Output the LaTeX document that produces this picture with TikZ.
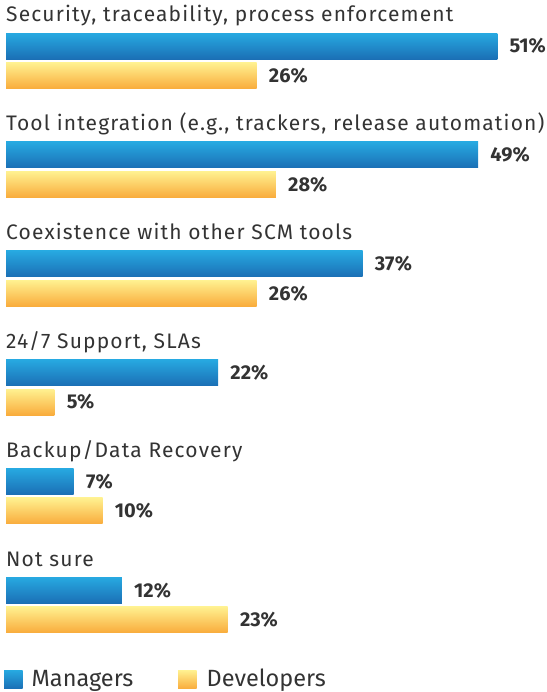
\documentclass[tikz,border=0pt]{standalone}
\usepackage{fontspec}
\setmainfont{Fira Sans}
\newfontfamily\spacedfont[LetterSpace=5.5]{Fira Sans}
\usetikzlibrary{positioning}
\definecolor{mgrtop}{HTML}{27A9E1}
\definecolor{mgrbot}{HTML}{1B6FB5}
\definecolor{devtop}{HTML}{FFF190}
\definecolor{devbot}{HTML}{F9AC3C}
\definecolor{inkgray}{HTML}{333333}
\tikzset{
    catlabel/.style={anchor=base west, inner sep=0pt, text=inkgray,
        font=\spacedfont\fontsize{21}{24}\selectfont},
    mgrbar/.style={anchor=north west, inner sep=0pt, minimum height=26pt,
        top color=mgrtop, bottom color=mgrbot},
    devbar/.style={anchor=north west, inner sep=0pt, minimum height=26pt,
        top color=devtop, bottom color=devbot},
    pctlabel/.style={inner sep=0pt, text=inkgray,
        font=\bfseries\fontsize{20}{22}\selectfont},
    keysq/.style={anchor=north west, inner sep=0pt, minimum size=18.5pt},
    keylabel/.style={anchor=base west, inner sep=0pt, text=inkgray,
        font=\fontsize{23.5}{27}\selectfont}
}

\begin{document}
\begin{tikzpicture}[x=1pt, y=-1pt]
\useasboundingbox (0,0) rectangle (546,692);
% one group per answer: title, managers bar, developers bar
\foreach \lbl/\mgr/\dev [count=\i from 0] in {
    {Security, traceability, process enforcement}/51/26,
    {Tool integration (e.g., trackers, release automation)}/49/28,
    {Coexistence with other SCM tools}/37/26,
    {24/7 Support, SLAs}/22/5,
    {Backup/Data Recovery}/7/10,
    {Not sure}/12/23}{
  \node[catlabel] (title\i) at (6, 22+108.8*\i) {\lbl};
  \node[mgrbar, minimum width=\mgr*9.63pt] (mgr\i) at (6, 33+108.8*\i) {};
  \node[devbar, minimum width=\dev*9.63pt, below=3pt of mgr\i.south west,
      anchor=north west] (dev\i) {};
  \node[pctlabel, right=12pt of mgr\i] (mgrpct\i) {\mgr\%};
  \node[pctlabel, right=12pt of dev\i] (devpct\i) {\dev\%};
}
% legend
\node[keysq, top color=mgrtop, bottom color=mgrbot] (mgrkey) at (4,670) {};
\node[keylabel] (mgrname) at (31.5,686) {Managers};
\node[keysq, top color=devtop, bottom color=devbot] (devkey) at (178,670) {};
\node[keylabel] (devname) at (206.5,686) {Developers};
\end{tikzpicture}
\end{document}
